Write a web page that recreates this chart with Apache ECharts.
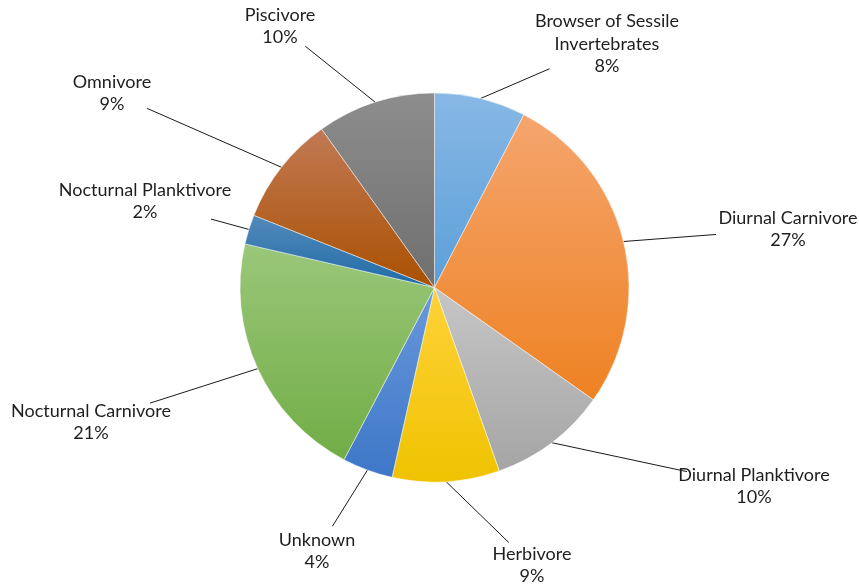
<!DOCTYPE html>
<html>
<head>
<meta charset="utf-8">
<script src="https://cdn.jsdelivr.net/npm/echarts@6/dist/echarts.min.js"></script>
<style>html,body{margin:0;padding:0;background:#fff;}#c{width:859px;height:586px;}</style>
</head>
<body>
<div id="c"></div>
<script>
// Data (clockwise from 12 o'clock)
var categories = ['Browser of Sessile\nInvertebrates', 'Diurnal Carnivore', 'Diurnal Planktivore', 'Herbivore', 'Unknown', 'Nocturnal Carnivore', 'Nocturnal Planktivore', 'Omnivore', 'Piscivore'];
var values = [7.6, 27.2, 9.8, 8.9, 4.2, 20.9, 2.45, 9.1, 9.85];
// Slice gradient colours (top, bottom)
var topColors = ['#88b8e5', '#f5a56e', '#c6c6c6', '#ffd23a', '#6a98da', '#9ac779', '#5389bb', '#c27a55', '#8d8d8d'];
var bottomColors = ['#5b9fd9', '#ee8222', '#a5a5a5', '#efc300', '#3d77c8', '#71ad46', '#1f6ca6', '#a95000', '#6f6f6f'];
// Label block centres (layout, not data)
var labelCenters = [[607, 44], [788, 229], [754, 486], [532, 565], [317, 551], [91, 422], [145, 201], [112, 93], [280, 26]];

var chart = echarts.init(document.getElementById('c'), null, {renderer: 'canvas'});
var seriesData = categories.map(function (name, i) {
  return {
    name: name,
    value: values[i],
    itemStyle: {
      color: {
        type: 'linear', x: 0, y: 0, x2: 0, y2: 1,
        colorStops: [{offset: 0, color: topColors[i]}, {offset: 1, color: bottomColors[i]}]
      }
    }
  };
});

chart.setOption({
  animation: false,
  backgroundColor: '#ffffff',
  series: [{
    type: 'pie',
    center: [434.5, 287.5],
    radius: 194.5,
    startAngle: 90,
    clockwise: true,
    avoidLabelOverlap: false,
    percentPrecision: 0,
    data: seriesData,
    itemStyle: {borderColor: 'rgba(255,255,255,0.8)', borderWidth: 0.6},
    label: {
      show: true,
      position: 'outside',
      formatter: '{b}\n{d}%',
      fontFamily: 'Lato',
      fontSize: 18,
      lineHeight: 22.5,
      color: '#1e1e1e',
      align: 'center'
    },
    labelLine: {
      show: true,
      length: 10,
      length2: 10,
      lineStyle: {color: '#1a1a1a', width: 1}
    },
    labelLayout: function (params) {
      var c = labelCenters[params.dataIndex];
      var w = params.labelRect.width, h = params.labelRect.height;
      var p0 = params.labelLinePoints ? params.labelLinePoints[0] : [434.5, 287.5];
      var dx = p0[0] - c[0], dy = p0[1] - c[1];
      var ax = w / 2 + 4, ay = h / 2 + 4;
      var t = 1 / Math.sqrt((dx / ax) * (dx / ax) + (dy / ay) * (dy / ay));
      var end = [c[0] + dx * t, c[1] + dy * t];
      var mid = [(p0[0] + end[0]) / 2, (p0[1] + end[1]) / 2];
      return {
        x: c[0], y: c[1],
        align: 'center', verticalAlign: 'middle',
        labelLinePoints: [p0, mid, end]
      };
    }
  }]
});
</script>
</body>
</html>
